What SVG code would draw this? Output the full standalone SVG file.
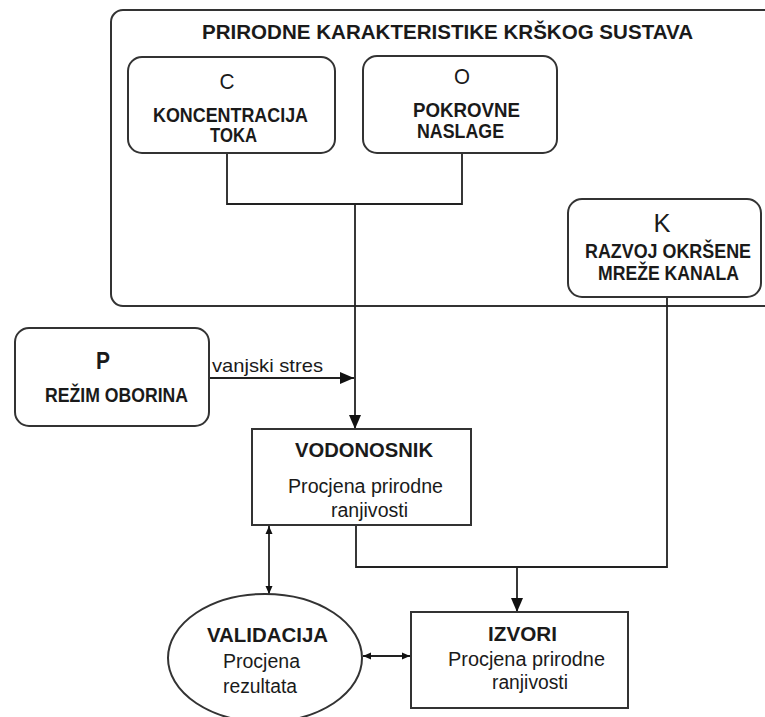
<svg xmlns="http://www.w3.org/2000/svg" width="765" height="717" viewBox="0 0 765 717">
<defs>
<style>
.box{fill:#fff;stroke:#333;stroke-width:2}
.ln{fill:none;stroke:#222;stroke-width:1.8}
.t{font-family:"Liberation Sans",Arial,sans-serif;fill:#1a1a1a;text-anchor:middle}
.b{font-weight:bold}
</style>
<marker id="arr" markerUnits="userSpaceOnUse" markerWidth="14" markerHeight="14" viewBox="0 0 14 14" refX="14" refY="7" orient="auto">
<path d="M0,1 L14,7 L0,13 z" fill="#111"/>
</marker>
<marker id="sm" markerUnits="userSpaceOnUse" markerWidth="8" markerHeight="8" viewBox="0 0 8 8" refX="8" refY="4" orient="auto-start-reverse">
<path d="M0,0.5 L8,4 L0,7.5 z" fill="#111"/>
</marker>
</defs>
<rect width="765" height="717" fill="#fff"/>

<g id="system">
<rect class="box" x="111" y="10" width="700" height="296" rx="12"/>
<text class="t b" x="447.5" y="39" font-size="20.5" textLength="491" lengthAdjust="spacingAndGlyphs">PRIRODNE KARAKTERISTIKE KRŠKOG SUSTAVA</text>
</g>

<g id="connectors">
<path class="ln" d="M227,153 V204 H462 V153"/>
<path class="ln" d="M355,204 V429" marker-end="url(#arr)"/>
<path class="ln" d="M209,378 H354" marker-end="url(#arr)"/>
<path class="ln" d="M356,525 V567 H667 V297"/>
<path class="ln" d="M517,567 V612" marker-end="url(#arr)"/>
<path class="ln" d="M269,526 V594" marker-start="url(#sm)" marker-end="url(#sm)"/>
<path class="ln" d="M363,656 H410" marker-start="url(#sm)" marker-end="url(#sm)"/>
</g>

<g id="node-c">
<rect class="box" x="128" y="57" width="207" height="96" rx="14"/>
<text class="t" x="227" y="89" font-size="22" textLength="15" lengthAdjust="spacingAndGlyphs">C</text>
<text class="t b" x="230.5" y="122" font-size="19.5" textLength="155" lengthAdjust="spacingAndGlyphs">KONCENTRACIJA</text>
<text class="t b" x="233.5" y="142" font-size="19.5" textLength="47" lengthAdjust="spacingAndGlyphs">TOKA</text>
</g>

<g id="node-o">
<rect class="box" x="363" y="56" width="194" height="97" rx="14"/>
<text class="t" x="462" y="84" font-size="22" textLength="16" lengthAdjust="spacingAndGlyphs">O</text>
<text class="t b" x="466.5" y="117" font-size="19.5" textLength="107" lengthAdjust="spacingAndGlyphs">POKROVNE</text>
<text class="t b" x="460.5" y="138" font-size="19.5" textLength="87" lengthAdjust="spacingAndGlyphs">NASLAGE</text>
</g>

<g id="node-k">
<rect class="box" x="568" y="199" width="193" height="98" rx="14"/>
<text class="t" x="662" y="232" font-size="26" textLength="17" lengthAdjust="spacingAndGlyphs">K</text>
<text class="t b" x="668" y="258" font-size="19.5" textLength="166" lengthAdjust="spacingAndGlyphs">RAZVOJ OKRŠENE</text>
<text class="t b" x="668.5" y="280" font-size="19.5" textLength="141" lengthAdjust="spacingAndGlyphs">MREŽE KANALA</text>
</g>

<g id="node-p">
<rect class="box" x="15" y="328" width="194" height="98" rx="14"/>
<text class="t b" x="103" y="369" font-size="23" textLength="14" lengthAdjust="spacingAndGlyphs">P</text>
<text class="t b" x="116.5" y="402" font-size="19.5" textLength="143" lengthAdjust="spacingAndGlyphs">REŽIM OBORINA</text>
</g>

<g id="label-stres">
<text class="t" x="267.5" y="372" font-size="19" textLength="111" lengthAdjust="spacingAndGlyphs">vanjski stres</text>
</g>

<g id="node-vodonosnik">
<rect class="box" x="252" y="429" width="219" height="96"/>
<text class="t b" x="364" y="457" font-size="20" textLength="138" lengthAdjust="spacingAndGlyphs">VODONOSNIK</text>
<text class="t" x="365.5" y="493" font-size="19.5" textLength="155" lengthAdjust="spacingAndGlyphs">Procjena prirodne</text>
<text class="t" x="369.5" y="517" font-size="19.5" textLength="77" lengthAdjust="spacingAndGlyphs">ranjivosti</text>
</g>

<g id="node-validacija">
<ellipse class="box" cx="265" cy="658" rx="97" ry="64" stroke-width="1.6"/>
<text class="t b" x="267.5" y="642" font-size="20" textLength="121" lengthAdjust="spacingAndGlyphs">VALIDACIJA</text>
<text class="t" x="261.5" y="668" font-size="19.5" textLength="77" lengthAdjust="spacingAndGlyphs">Procjena</text>
<text class="t" x="260" y="693" font-size="19.5" textLength="74" lengthAdjust="spacingAndGlyphs">rezultata</text>
</g>

<g id="node-izvori">
<rect class="box" x="411" y="612" width="217" height="96"/>
<text class="t b" x="522.5" y="641" font-size="20" textLength="69" lengthAdjust="spacingAndGlyphs">IZVORI</text>
<text class="t" x="526.5" y="666" font-size="19.5" textLength="157" lengthAdjust="spacingAndGlyphs">Procjena prirodne</text>
<text class="t" x="530" y="689" font-size="19.5" textLength="76" lengthAdjust="spacingAndGlyphs">ranjivosti</text>
</g>
</svg>
